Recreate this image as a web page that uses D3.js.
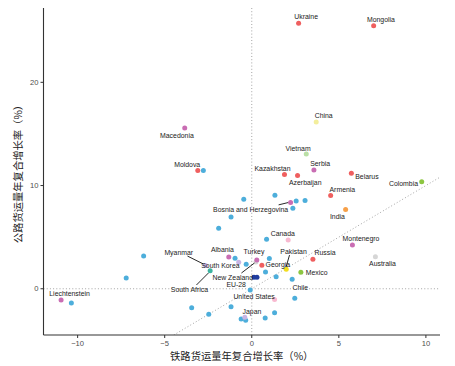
<!DOCTYPE html>
<html><head><meta charset="utf-8">
<script src="https://cdn.jsdelivr.net/npm/d3@7/dist/d3.min.js"></script>
<style>body{margin:0;background:#fff;}svg{display:block;}</style>
</head><body>
<svg id="c" width="455" height="366"></svg>
<script>
// ---- data ----
const names = ["Ukraine","Mongolia","China","Macedonia","Moldova","Vietnam","Kazakhstan","Azerbaijan","Serbia","Belarus","Armenia","India","Colombia","Montenegro","Australia","Russia","Mexico","Canada","Bosnia and Herzegovina","Pakistan","Georgia","Turkey","Albania","South Korea","Myanmar","South Africa","New Zealand","EU-28","United States","Japan","Chile","Liechtenstein"];
const railGrowth = [2.69,7.00,3.70,-3.85,-3.10,3.13,1.88,2.63,3.57,5.72,4.53,5.39,9.76,5.78,7.10,3.51,2.82,2.09,2.23,1.98,0.58,0.29,-1.32,-0.75,-2.66,-2.39,0.24,0.30,1.31,-0.40,2.32,-10.95];
const roadGrowth = [25.73,25.48,16.16,15.57,11.45,13.05,11.07,10.97,11.50,11.20,9.03,7.67,10.36,4.24,3.10,2.85,1.59,4.73,8.35,1.88,2.27,2.79,3.08,2.56,2.25,1.75,2.59,1.11,-1.03,-2.75,0.91,-1.10];
const groups = ["cis","cis","china","balkan","cis","vietnam","cis","cis","balkan","cis","cis","india","latam","balkan","oceania","cis","latam","namerica","balkan","pakistan","cis","balkan","balkan","asia","asia","safrica","oceania","eu28","namerica","asia","europe","balkan"];

const otherRail = [-2.78,-10.36,-7.21,-6.21,-3.45,-2.47,-1.19,-0.61,-0.35,0.77,1.31,-0.09,2.47,-0.96,-0.32,1.01,0.79,1.40,0.85,-0.46,-1.19,-1.90,1.33,2.55,3.06,2.36,0.13];
const otherRoad = [11.46,-1.39,1.04,3.17,-1.84,-2.46,-1.75,-2.94,-3.04,-2.84,-2.33,-0.13,-0.93,2.95,2.37,2.93,1.62,1.17,4.80,8.68,6.96,5.86,9.05,8.49,8.56,7.79,1.11];
const otherGroups = ["europe","europe","europe","europe","europe","europe","europe","europe","europe","europe","europe","europe","europe","europe","europe","europe","europe","europe","europe","europe","europe","europe","europe","europe","europe","europe","eu28"];

const xTicks = [-10,-5,0,5,10];
const yTicks = [0,10,20];
const xTitle = "铁路货运量年复合增长率（%）";
const yTitle = "公路货运量年复合增长率（%）";

// ---- styles / layout ----
const colors = {cis:"#EF5F5F", balkan:"#C96DB3", europe:"#4DAEDB", china:"#F3EE9C", vietnam:"#BADFA6", india:"#F7A048", latam:"#8DC641", oceania:"#D6D6D6", namerica:"#F8B9D0", pakistan:"#F2DD1E", asia:"#C7B5E4", safrica:"#3DB3A0", eu28:"#1F3C9E"};
const labelOffsets = {
 "Ukraine":[7.5,-7],"Mongolia":[7.3,-6.3],"China":[7.5,-6],"Macedonia":[-7.8,7],"Moldova":[-10.6,-6.4],
 "Vietnam":[-8.2,-6],"Kazakhstan":[-12,-5.7],"Azerbaijan":[7.7,6.6],"Serbia":[6.2,-6.3],"Belarus":[15.6,3.7],
 "Armenia":[11.7,-5.7],"India":[-8.2,7],"Colombia":[-18.2,1.3],"Montenegro":[8.6,-6.7],"Australia":[7.1,6.6],
 "Russia":[12.2,-7],"Mexico":[15.7,0],"Canada":[-5.4,-6],"Bosnia and Herzegovina":[-40,7.3],"Pakistan":[7.3,-18.3],
 "Georgia":[16,-1],"Turkey":[-2.8,-8.3],"Albania":[-6.3,-7.3],"South Korea":[-18.3,2.7],"Myanmar":[-26.7,-12.8],
 "South Africa":[-20.7,19.3],"New Zealand":[-23.2,15.7],"EU-28":[-20.8,7],"United States":[-20.5,-2.6],
 "Japan":[7.2,-6],"Chile":[8.1,8],"Liechtenstein":[8.5,-6.7]
};
const segments = {
 "Bosnia and Herzegovina":[-12,2.3,-2.5,0],"Pakistan":[3.3,-14.3,-0.2,-2.3],"Myanmar":[-18,-9.5,-2,-1.5],
 "South Africa":[-13.7,14.3,-1.7,2.3],"New Zealand":[-14.5,11,-1.5,1]
};

const L=43.5, R=440, T=8, B=335;
const svg = d3.select("#c");
const x = d3.scaleLinear().domain([-11.96,10.81]).range([L,R]);
const y = d3.scaleLinear().domain([-4.48,27.2]).range([B,T]);

const clip = svg.append("defs").append("clipPath").attr("id","clp").append("rect").attr("x",L).attr("y",T).attr("width",R-L).attr("height",B-T);
const g = svg.append("g").attr("clip-path","url(#clp)");
const dotted = s=>s.attr("stroke","#9a9a9a").attr("stroke-width",0.9).attr("stroke-dasharray","1,2.2").attr("fill","none");
g.append("line").attr("x1",x(0)).attr("x2",x(0)).attr("y1",T).attr("y2",B).call(dotted);
g.append("line").attr("x1",L).attr("x2",R).attr("y1",y(0)).attr("y2",y(0)).call(dotted);
const d0 = -4.48, d1 = 10.81;
g.append("line").attr("x1",x(d0)).attr("y1",y(d0)).attr("x2",x(d1)).attr("y2",y(d1)).call(dotted);

// points
const others = otherRail.map((v,i)=>({x:v,y:otherRoad[i],g:otherGroups[i]}));
const labeled = names.map((n,i)=>({n, x:railGrowth[i], y:roadGrowth[i], g:groups[i]}));
const order = ["New Zealand"];
const pts = labeled.filter(d=>order.includes(d.n)).concat(others).concat(labeled.filter(d=>!order.includes(d.n)));
g.selectAll("circle.p").data(pts).enter().append("circle")
 .attr("cx",d=>x(d.x)).attr("cy",d=>y(d.y)).attr("r",2.5).attr("fill",d=>colors[d.g]);

// segments
svg.selectAll("line.seg").data(labeled.filter(d=>segments[d.n])).enter().append("line")
 .attr("x1",d=>x(d.x)+segments[d.n][0]).attr("y1",d=>y(d.y)+segments[d.n][1])
 .attr("x2",d=>x(d.x)+segments[d.n][2]).attr("y2",d=>y(d.y)+segments[d.n][3])
 .attr("stroke","#111").attr("stroke-width",0.9);

// labels
svg.selectAll("text.lab").data(labeled).enter().append("text")
 .attr("x",d=>x(d.x)+labelOffsets[d.n][0]).attr("y",d=>y(d.y)+labelOffsets[d.n][1])
 .attr("text-anchor","middle").attr("dominant-baseline","central")
 .attr("font-family","Liberation Sans, Arial, sans-serif").attr("font-size",6.9).attr("fill","#1a1a1a")
 .text(d=>d.n);

// axes
const ax = svg.append("g");
ax.append("line").attr("x1",L).attr("x2",R).attr("y1",B).attr("y2",B).attr("stroke","#333").attr("stroke-width",1.1);
ax.append("line").attr("x1",L).attr("x2",L).attr("y1",T).attr("y2",B).attr("stroke","#333").attr("stroke-width",1.1);
ax.selectAll("line.xt").data(xTicks).enter().append("line").attr("x1",d=>x(d)).attr("x2",d=>x(d)).attr("y1",B).attr("y2",B+3).attr("stroke","#333").attr("stroke-width",1);
ax.selectAll("line.yt").data(yTicks).enter().append("line").attr("y1",d=>y(d)).attr("y2",d=>y(d)).attr("x1",L-3).attr("x2",L).attr("stroke","#333").attr("stroke-width",1);
ax.selectAll("text.xt").data(xTicks).enter().append("text").attr("x",d=>x(d)).attr("y",B+8.5)
 .attr("text-anchor","middle").attr("dominant-baseline","central").attr("font-family","Liberation Sans, Arial, sans-serif").attr("font-size",7.6).attr("fill","#4d4d4d")
 .text(d=>d<0?"\u2212"+Math.abs(d):d);
ax.selectAll("text.yt").data(yTicks).enter().append("text").attr("x",L-5).attr("y",d=>y(d))
 .attr("text-anchor","end").attr("dominant-baseline","central").attr("font-family","Liberation Sans, Arial, sans-serif").attr("font-size",7.6).attr("fill","#4d4d4d")
 .text(d=>d);
svg.append("text").attr("x",(L+R)/2).attr("y",355).attr("text-anchor","middle").attr("dominant-baseline","central")
 .attr("font-family","Noto Sans CJK SC, sans-serif").attr("font-size",10.3).attr("fill","#222").text(xTitle);
svg.append("text").attr("transform",`translate(17,${(T+B)/2}) rotate(-90)`).attr("text-anchor","middle").attr("dominant-baseline","central")
 .attr("font-family","Noto Sans CJK SC, sans-serif").attr("font-size",10.3).attr("fill","#222").text(yTitle);
</script>
</body></html>
